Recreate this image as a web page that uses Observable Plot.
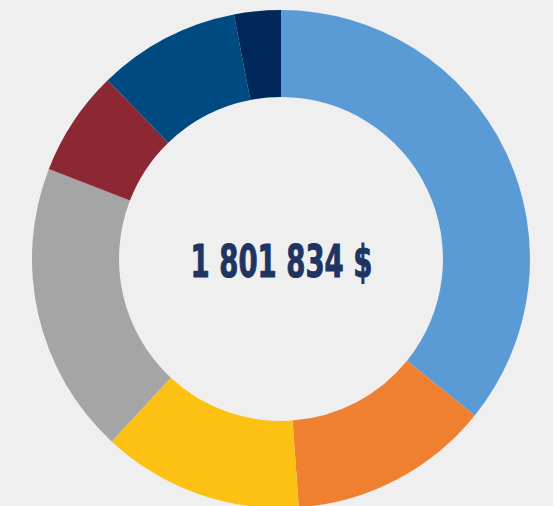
<!DOCTYPE html>
<html><head><meta charset="utf-8">
<script src="https://cdn.jsdelivr.net/npm/d3@7"></script>
<script src="https://cdn.jsdelivr.net/npm/@observablehq/plot@0.6"></script>
<style>html,body{margin:0;padding:0;background:#efefef;overflow:hidden}</style>
</head><body><div id="chart"></div>
<script>
// Data (total shown in centre)
const categories = ["Catégorie 1","Catégorie 2","Catégorie 3","Catégorie 4","Catégorie 5","Catégorie 6","Catégorie 7"];
const values = [645200, 235200, 235100, 341900, 123600, 166200, 54600];
const totalLabel = "1 801 834 $";
// Styles
const colors = ["#5b9bd5","#ef8030","#fdc114","#a5a5a5","#8b2834","#004a82","#00285a"];

const data = categories.map((c, i) => ({category: c, value: values[i]}));
const OUTER = 249, INNER = 162;

function donut(index, scales) {
  const sx = scales.x, sy = scales.y;
  const cx = sx(0), cy = sy(0);
  const ro = Math.abs(sx(OUTER) - sx(0)), ri = Math.abs(sx(INNER) - sx(0));
  const pie = d3.pie().sort(null).value(d => d.value).startAngle(0).endAngle(2 * Math.PI);
  const arc = d3.arc().innerRadius(ri).outerRadius(ro);
  const color = scales.color || (c => colors[categories.indexOf(c)]);
  const g = d3.create("svg:g").attr("transform", `translate(${cx},${cy})`);
  g.selectAll("path").data(pie(data)).join("path")
    .attr("d", arc)
    .attr("fill", d => color(d.data.category));
  return g.node();
}

const chart = Plot.plot({
  width: 553,
  height: 506,
  margin: 0,
  style: {background: "#efefef", overflow: "visible"},
  x: {domain: [-281, 272], axis: null},
  y: {domain: [-247, 259], axis: null},
  color: {domain: categories, range: colors},
  marks: [
    donut,
    Plot.text([{x: 0, y: 0, label: totalLabel}], {
      x: "x", y: "y", text: "label",
      fill: "#1f3461",
      stroke: "#1f3461",
      strokeWidth: 1,
      fontSize: 44,
      fontWeight: "bold",
      fontFamily: "'Liberation Sans Narrow','DejaVu Sans Condensed',sans-serif",
      textAnchor: "middle",
      dy: 3
    })
  ]
});
document.getElementById("chart").append(chart);
d3.select(chart).selectAll("g[aria-label=text] text")
  .attr("textLength", 182).attr("lengthAdjust", "spacingAndGlyphs");
</script>
</body></html>
